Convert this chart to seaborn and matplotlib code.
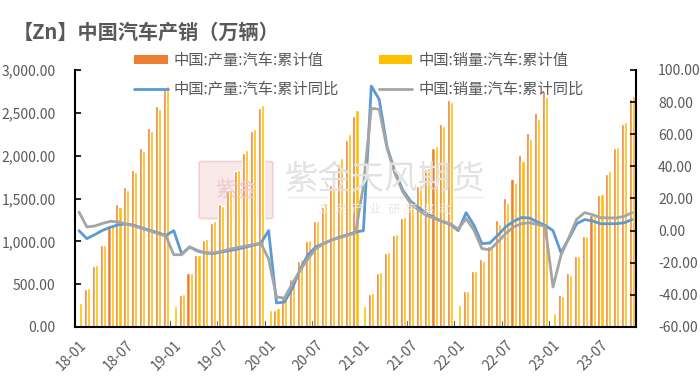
import numpy as np
import pandas as pd
import matplotlib
matplotlib.use("Agg")
import matplotlib.pyplot as plt
import seaborn as sns
from matplotlib.patches import Patch, FancyBboxPatch
from matplotlib.lines import Line2D
from matplotlib.ticker import FuncFormatter, FixedLocator

nan = np.nan
months = [f"{y:02d}-{m:02d}" for y in range(18, 24) for m in range(1, 13)][:71]

prod = [
    nan, 440, 715, 955, 1195, 1430, 1630, 1835, 2085, 2325, 2580, 2782,
    nan, 370, 634, 836, 1019, 1218, 1432, 1603, 1825, 2035, 2288, 2555,
    nan, 200, 345, 555, 767, 1000, 1240, 1400, 1660, 1900, 2180, 2465,
    nan, 381, 630, 860, 1078, 1276, 1455, 1646, 1848, 2089, 2366, 2646,
    nan, 422, 658, 790, 940, 1249, 1502, 1731, 2008, 2268, 2498, 2751,
    nan, 370, 630, 829, 1062, 1305, 1545, 1786, 2086, 2366, 2658]
sales = [
    284, 455, 727, 953, 1194, 1404, 1599, 1809, 2050, 2288, 2541, 2809,
    241, 385, 634, 836, 1027, 1233, 1412, 1603, 1836, 2062, 2307, 2588,
    195, 225, 367, 576, 797, 1019, 1233, 1447, 1712, 1973, 2257, 2530,
    248, 401, 646, 876, 1089, 1284, 1467, 1661, 1860, 2109, 2346, 2627,
    253, 420, 650, 774, 925, 1202, 1451, 1685, 1941, 2198, 2432, 2685,
    167, 362, 603, 829, 1062, 1300, 1556, 1821, 2097, 2393, 2693]
prod_yoy = [
    0, -5.0, -2.5, 0.2, 2.1, 3.7, 4.1, 3.3, 1.6, 0.2, -1.3, -3.0,
    0, -14.5, -10.2, -12.7, -13.9, -14.3, -13.3, -12.5, -11.6, -10.4, -9.2, -8.0,
    0, -45.0, -44.5, -36.0, -24.0, -15.0, -10.0, -8.0, -5.8, -4.0, -2.6, -0.9,
    0, 90.0, 81.7, 52.1, 36.5, 25.1, 18.2, 14.3, 10.6, 7.9, 5.6, 3.9,
    0, 11.2, 3.3, -8.1, -7.7, -2.9, 2.3, 5.8, 8.1, 7.9, 5.4, 3.3,
    0, -13.7, -5.0, 4.3, 6.9, 6.0, 4.3, 4.3, 4.3, 4.9, 6.9]
sales_yoy = [
    11.6, 2.3, 2.9, 4.5, 5.8, 5.4, 4.1, 2.9, 1.2, -0.2, -1.9, -3.3,
    -15.0, -15.0, -10.2, -12.3, -13.7, -13.9, -12.9, -11.6, -10.6, -9.6, -8.8, -7.7,
    -17.5, -41.3, -42.0, -33.0, -24.7, -17.5, -11.2, -8.0, -5.8, -4.4, -2.9, -1.5,
    28.0, 76.2, 75.5, 51.0, 35.5, 24.0, 16.8, 12.7, 9.5, 7.5, 5.8, 4.3,
    0.9, 7.5, 0.2, -11.2, -11.9, -7.1, -1.9, 2.3, 4.3, 4.9, 3.9, 2.6,
    -35.1, -15.4, -4.4, 7.1, 11.2, 9.9, 8.1, 7.9, 7.9, 8.9, 11.2]

names = ["中国:产量:汽车:累计值", "中国:销量:汽车:累计值",
         "中国:产量:汽车:累计同比", "中国:销量:汽车:累计同比"]
c_orange, c_yellow, c_blue, c_gray = "#ED7D31", "#FFC000", "#5B9BD5", "#A5A5A5"
txt = "#595959"

sns.set_theme(style="white")
plt.rcParams["font.family"] = ["Noto Sans CJK SC", "DejaVu Sans"]

fig = plt.figure(figsize=(7.0, 3.79), dpi=100)
ax = fig.add_axes([75/700, 1-327/379, 561/700, 257/379])
ax.patch.set_alpha(0)

bars = pd.DataFrame({
    "month": months * 2,
    "series": [names[0]] * 71 + [names[1]] * 71,
    "value": prod + sales,
})
sns.barplot(data=bars, x="month", y="value", hue="series", order=months,
            hue_order=names[:2], palette=[c_orange, c_yellow], width=0.78,
            gap=0, errorbar=None, legend=False, ax=ax, saturation=1)

ax2 = ax.twinx()
x = np.arange(len(months))
sns.lineplot(x=x, y=prod_yoy, ax=ax2, color=c_blue, linewidth=2.0)
sns.lineplot(x=x, y=sales_yoy, ax=ax2, color=c_gray, linewidth=2.0)

ax.set_xlim(-0.5, len(months) - 0.5)
ax.set_ylim(0, 3000)
ax2.set_ylim(-60, 100)
ax.set_yticks(np.arange(0, 3001, 500))
ax2.set_yticks(np.arange(-60, 101, 20))
ax.yaxis.set_major_formatter(FuncFormatter(lambda v, p: f"{v:,.2f}"))
ax2.yaxis.set_major_formatter(FuncFormatter(lambda v, p: f"{v:.2f}"))
ax.set_xlabel("")
ax.set_ylabel("")
ax2.set_ylabel("")

lab_idx = list(range(0, len(months), 6))
ax.xaxis.set_major_locator(FixedLocator(lab_idx))
ax.set_xticklabels([months[i] for i in lab_idx], rotation=45, ha="right",
                   rotation_mode="anchor")
ax.xaxis.set_minor_locator(FixedLocator([i - 0.5 for i in lab_idx[1:]] + [70.5]))
ax.tick_params(axis="x", which="major", length=0, pad=8, labelsize=10, labelcolor=txt)
ax.tick_params(axis="x", which="minor", length=4, width=1.2, direction="in",
               color="black", bottom=True)
ax.tick_params(axis="y", length=4, width=1.2, direction="in", labelsize=10,
               labelcolor=txt, color="black", left=True, pad=14)
ax2.tick_params(axis="y", length=4, width=1.2, direction="in", labelsize=10,
                labelcolor=txt, color="black", right=True, pad=16)

for a in (ax, ax2):
    a.spines["top"].set_visible(False)
    for s in ("left", "right", "bottom"):
        a.spines[s].set_color("black")
        a.spines[s].set_linewidth(1.5)
ax.spines["right"].set_visible(False)
ax2.spines["left"].set_visible(False)
ax2.spines["bottom"].set_visible(False)

# watermark
fig.text(385/700, 1-180/379, "紫金天风期货", fontsize=24, color="#e2e2e2",
         ha="center", va="center", zorder=0)
fig.text(385/700, 1-209/379, "立  足  产  业   研  究  驱  动", fontsize=8.5,
         color="#e6e6e6", ha="center", va="center", zorder=0)
fig.add_artist(Line2D([288/700, 483/700], [1-197/379, 1-197/379],
                      color="#ececec", linewidth=1, zorder=0))
seal = FancyBboxPatch((202/700, 1-217/379), 68/700, 54/379,
                      boxstyle="round,pad=0.004", transform=fig.transFigure,
                      facecolor="#f9e8e8", edgecolor="#f0d0d0", linewidth=1.2,
                      zorder=0)
fig.add_artist(seal)
fig.text(236/700, 1-190/379, "紫金", fontsize=15, color="#efcaca",
         ha="center", va="center", zorder=0)

fig.text(13/700, 1-32/379, "【Zn】中国汽车产销（万辆）", fontsize=14.5,
         fontweight="bold", color=txt, ha="left", va="center")

handles = [Patch(facecolor=c_orange, edgecolor="none"),
           Line2D([], [], color=c_blue, linewidth=2.0),
           Patch(facecolor=c_yellow, edgecolor="none"),
           Line2D([], [], color=c_gray, linewidth=2.0)]
labels = [names[0], names[2], names[1], names[3]]
fig.legend(handles, labels, ncol=2, frameon=False, loc="upper left",
           bbox_to_anchor=(128/700, 1-46/379), fontsize=11, labelcolor=txt,
           handlelength=2.2, handleheight=0.55, handletextpad=0.4,
           columnspacing=2.6, labelspacing=0.75, borderaxespad=0)

fig.savefig("out.png", dpi=100)
